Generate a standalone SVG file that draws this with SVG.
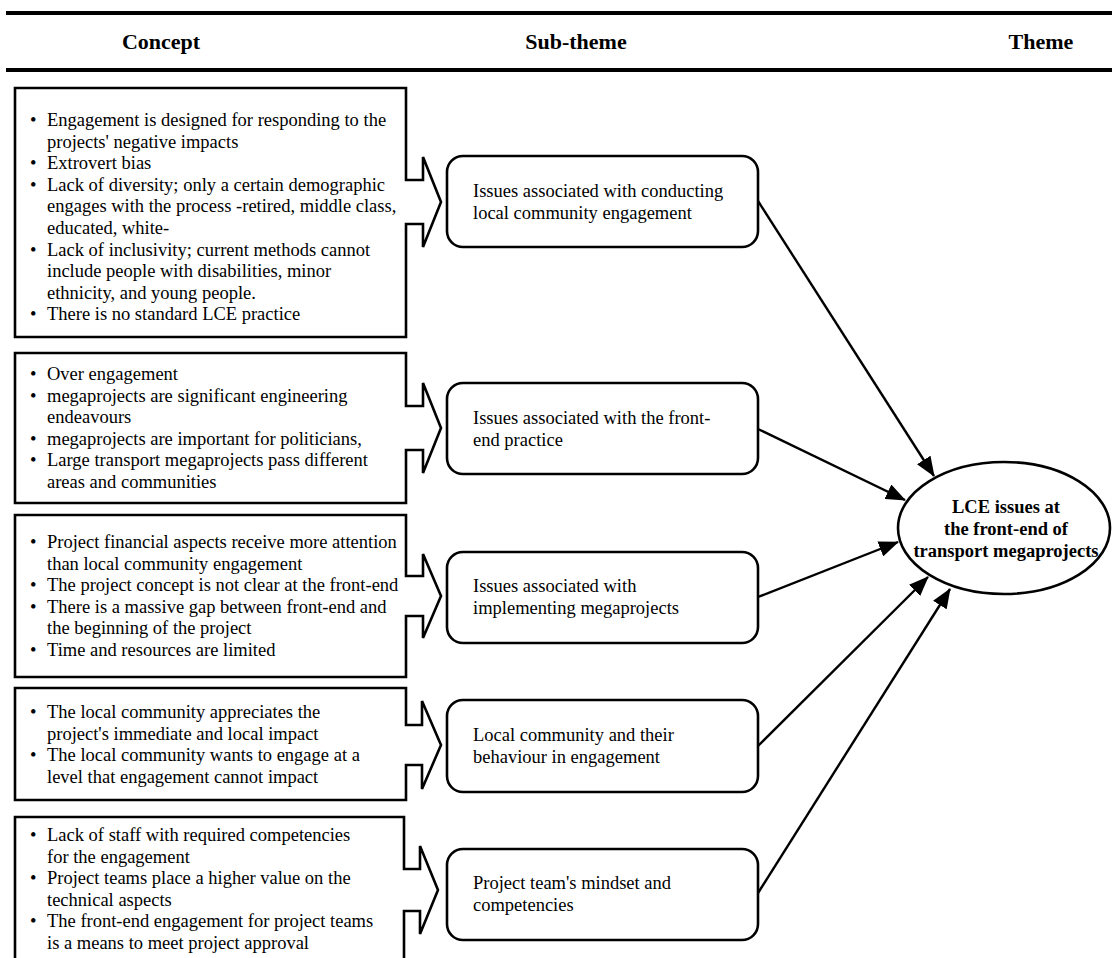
<svg xmlns="http://www.w3.org/2000/svg" width="1112" height="958" viewBox="0 0 1112 958">
<style>
.hdr{font-family:"Liberation Serif","Times New Roman",serif;font-size:22px;font-weight:bold;fill:#000;text-anchor:middle}
.t{font-family:"Liberation Serif","Times New Roman",serif;font-size:18.5px;fill:#000}
.b{font-family:"Liberation Serif","Times New Roman",serif;font-size:18.5px;font-weight:bold;fill:#000;text-anchor:middle}
.box{fill:#fff;stroke:#000;stroke-width:2.6;stroke-linejoin:miter}
.rr{fill:#fff;stroke:#000;stroke-width:2.6}
.rule{stroke:#000;stroke-width:4}
.con{stroke:#000;stroke-width:2.4;fill:none}
</style>
<defs>
<marker id="ah" markerUnits="userSpaceOnUse" markerWidth="20" markerHeight="16" refX="19" refY="8" orient="auto">
<path d="M0,0 L20,8 L0,16 Z" fill="#000"/>
</marker>
</defs>
<g id="header">
<line class="rule" x1="6" y1="13" x2="1112" y2="13"/>
<line class="rule" x1="6" y1="70" x2="1112" y2="70"/>
<text class="hdr" x="161" y="49">Concept</text>
<text class="hdr" x="576" y="49">Sub-theme</text>
<text class="hdr" x="1041" y="49">Theme</text>
</g>
<g id="concept1">
<path class="box" d="M15,88 H406 V180 H423 V157 L441,202 L423,247 V224 H406 V337 H15 Z"/>
<g class="t">
<text x="30" y="126">•</text><text x="47" y="126">Engagement is designed for responding to the</text>
<text x="47" y="147.6">projects' negative impacts</text>
<text x="30" y="169.2">•</text><text x="47" y="169.2">Extrovert bias</text>
<text x="30" y="190.8">•</text><text x="47" y="190.8">Lack of diversity; only a certain demographic</text>
<text x="47" y="212.4">engages with the process -retired, middle class,</text>
<text x="47" y="234">educated, white-</text>
<text x="30" y="255.6">•</text><text x="47" y="255.6">Lack of inclusivity; current methods cannot</text>
<text x="47" y="277.2">include people with disabilities, minor</text>
<text x="47" y="298.8">ethnicity, and young people.</text>
<text x="30" y="320.4">•</text><text x="47" y="320.4">There is no standard LCE practice</text>
</g>
</g>
<g id="concept2">
<path class="box" d="M15,353 H406 V406 H423 V383 L441,428 L423,473 V450 H406 V503 H15 Z"/>
<g class="t">
<text x="30" y="380">•</text><text x="47" y="380">Over engagement</text>
<text x="30" y="401.6">•</text><text x="47" y="401.6">megaprojects are significant engineering</text>
<text x="47" y="423.2">endeavours</text>
<text x="30" y="444.8">•</text><text x="47" y="444.8">megaprojects are important for politicians,</text>
<text x="30" y="466.4">•</text><text x="47" y="466.4">Large transport megaprojects pass different</text>
<text x="47" y="488">areas and communities</text>
</g>
</g>
<g id="concept3">
<path class="box" d="M15,515 H406 V576 H423 V554 L441,596 L423,638 V616 H406 V677 H15 Z"/>
<g class="t">
<text x="30" y="548">•</text><text x="47" y="548">Project financial aspects receive more attention</text>
<text x="47" y="569.6">than local community engagement</text>
<text x="30" y="591.2">•</text><text x="47" y="591.2">The project concept is not clear at the front-end</text>
<text x="30" y="612.8">•</text><text x="47" y="612.8">There is a massive gap between front-end and</text>
<text x="47" y="634.4">the beginning of the project</text>
<text x="30" y="656">•</text><text x="47" y="656">Time and resources are limited</text>
</g>
</g>
<g id="concept4">
<path class="box" d="M15,688 H406 V725 H422 V701 L441,745 L422,789 V765 H406 V800 H15 Z"/>
<g class="t">
<text x="30" y="718">•</text><text x="47" y="718">The local community appreciates the</text>
<text x="47" y="739.6">project's immediate and local impact</text>
<text x="30" y="761.2">•</text><text x="47" y="761.2">The local community wants to engage at a</text>
<text x="47" y="782.8">level that engagement cannot impact</text>
</g>
</g>
<g id="concept5">
<path class="box" d="M15,817 H404 V869 H420 V846 L438,890 L420,934 V911 H404 V990 H15 Z"/>
<g class="t">
<text x="30" y="841">•</text><text x="47" y="841">Lack of staff with required competencies</text>
<text x="47" y="862.6">for the engagement</text>
<text x="30" y="884.2">•</text><text x="47" y="884.2">Project teams place a higher value on the</text>
<text x="47" y="905.8">technical aspects</text>
<text x="30" y="927.4">•</text><text x="47" y="927.4">The front-end engagement for project teams</text>
<text x="47" y="949">is a means to meet project approval</text>
</g>
</g>
<g id="sub1">
<rect class="rr" x="447" y="156" width="311" height="91" rx="16"/>
<text class="t" x="473" y="197">Issues associated with conducting</text>
<text class="t" x="473" y="219">local community engagement</text>
</g>
<g id="sub2">
<rect class="rr" x="447" y="383" width="311" height="91" rx="16"/>
<text class="t" x="473" y="424">Issues associated with the front-</text>
<text class="t" x="473" y="446">end practice</text>
</g>
<g id="sub3">
<rect class="rr" x="447" y="552" width="311" height="91" rx="16"/>
<text class="t" x="473" y="592">Issues associated with</text>
<text class="t" x="473" y="614">implementing megaprojects</text>
</g>
<g id="sub4">
<rect class="rr" x="447" y="700" width="311" height="92" rx="16"/>
<text class="t" x="473" y="741">Local community and their</text>
<text class="t" x="473" y="763">behaviour in engagement</text>
</g>
<g id="sub5">
<rect class="rr" x="447" y="849" width="311" height="91" rx="16"/>
<text class="t" x="473" y="889">Project team's mindset and</text>
<text class="t" x="473" y="911">competencies</text>
</g>
<g id="theme">
<ellipse cx="1004" cy="528" rx="106" ry="66" fill="#fff" stroke="#000" stroke-width="2.6"/>
<text class="b" x="1006" y="513">LCE issues at</text>
<text class="b" x="1006" y="535">the front-end of</text>
<text class="b" x="1006" y="557">transport megaprojects</text>
</g>
<g id="connectors">
<line class="con" x1="758" y1="201" x2="934" y2="476" marker-end="url(#ah)"/>
<line class="con" x1="758" y1="429" x2="905" y2="500" marker-end="url(#ah)"/>
<line class="con" x1="758" y1="597" x2="898" y2="542" marker-end="url(#ah)"/>
<line class="con" x1="758" y1="746" x2="928" y2="577" marker-end="url(#ah)"/>
<line class="con" x1="758" y1="893" x2="950" y2="589" marker-end="url(#ah)"/>
</g>
</svg>
